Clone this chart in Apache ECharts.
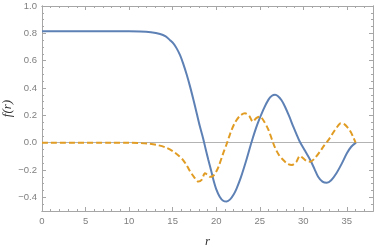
<!DOCTYPE html>
<html><head><meta charset="utf-8">
<script src="https://cdn.jsdelivr.net/npm/echarts@6/dist/echarts.min.js"></script>
<style>html,body{margin:0;padding:0;background:#fff}#c{width:374px;height:247px}</style>
</head><body><div id="c"></div>
<script>
const blueR = [0,8,10,11.25,12.5,13.55,14.2,14.7,15.1,15.46,15.85,16.2,16.6,17.0,17.4,17.76,18.1,18.5,18.8,19.1,19.4,19.67,20.0,20.4,20.8,21.2,21.6,22.0,22.35,22.8,23.4,24.07,24.7,25.4,26.0,26.4,26.75,27.1,27.5,27.9,28.4,28.85,29.2,29.6,30.2,30.8,31.3,31.7,32.2,32.7,33.2,33.8,34.4,35.0,35.5,36.05];
const blueF = [0.815,0.815,0.815,0.814,0.808,0.795,0.777,0.75,0.725,0.69,0.64,0.58,0.5,0.41,0.31,0.215,0.125,0.03,-0.05,-0.127,-0.2,-0.27,-0.34,-0.395,-0.425,-0.43,-0.415,-0.38,-0.334,-0.26,-0.14,0.007,0.13,0.24,0.315,0.343,0.35,0.34,0.31,0.263,0.19,0.117,0.065,0.007,-0.06,-0.127,-0.195,-0.249,-0.285,-0.293,-0.275,-0.224,-0.155,-0.078,-0.03,0];
const orangeR = [0,8,10,11.25,12.3,13.2,14.2,15.1,15.7,16.2,16.6,17.0,17.5,17.95,18.35,18.7,19.0,19.3,19.6,19.9,20.3,20.8,21.2,21.6,22.1,22.7,23.3,23.8,24.2,24.6,25.0,25.5,26.0,26.7,27.2,27.7,28.2,28.7,29.2,29.6,30.0,30.4,30.8,31.3,31.9,32.4,32.9,33.5,34.0,34.3,34.7,35.1,35.4,35.7,36.0];
const orangeF = [0,0,-0.001,-0.003,-0.008,-0.017,-0.035,-0.066,-0.095,-0.127,-0.165,-0.21,-0.255,-0.285,-0.27,-0.224,-0.235,-0.25,-0.245,-0.224,-0.17,-0.078,-0.01,0.065,0.14,0.195,0.215,0.195,0.154,0.18,0.19,0.155,0.093,-0.029,-0.09,-0.127,-0.155,-0.163,-0.14,-0.097,-0.115,-0.135,-0.139,-0.115,-0.066,-0.02,0.02,0.08,0.125,0.142,0.135,0.11,0.083,0.045,0];
const xMajor = [0,5,10,15,20,25,30,35];
const xMinor = [0,1,2,3,4,5,6,7,8,9,10,11,12,13,14,15,16,17,18,19,20,21,22,23,24,25,26,27,28,29,30,31,32,33,34,35,36,37,38];
const yMajor = [-0.4,-0.2,0,0.2,0.4,0.6,0.8,1.0];
const yMinor = [-0.5,-0.45,-0.4,-0.35,-0.3,-0.25,-0.2,-0.15,-0.1,-0.05,0,0.05,0.1,0.15,0.2,0.25,0.3,0.35,0.4,0.45,0.5,0.55,0.6,0.65,0.7,0.75,0.8,0.85,0.9,0.95,1.0];

const frame = '#a6a6a6';
const labelStyle = {color:'#7f7f7f', fontSize:9.5, fontFamily:'Liberation Sans'};
function xa(pos, vals, len, labels, extra){
  return Object.assign({type:'value', position:pos, min:0, max:38,
    axisLine:{show:true, onZero:false, lineStyle:{color:frame, width:1}},
    axisTick:{show:true, inside:true, length:len, customValues:vals, lineStyle:{color:frame}},
    axisLabel: labels ? Object.assign({show:true, customValues:xMajor, margin:5}, labelStyle) : {show:false},
    splitLine:{show:false}}, extra||{});
}
function ya(pos, vals, len, labels, extra){
  return Object.assign({type:'value', position:pos, min:-0.5, max:1.0,
    axisLine:{show:true, onZero:false, lineStyle:{color:frame, width:1}},
    axisTick:{show:true, inside:true, length:len, customValues:vals, lineStyle:{color:frame}},
    axisLabel: labels ? Object.assign({show:true, customValues:yMajor, margin:5, formatter:v=>v.toFixed(1).replace('-','\u2212')}, labelStyle) : {show:false},
    splitLine:{show:false}}, extra||{});
}
const chart = echarts.init(document.getElementById('c'), null, {renderer:'canvas'});
chart.setOption({
  animation:false,
  grid:{left:42, right:1, top:6, bottom:36, containLabel:false, outerBoundsMode:'none'},
  xAxis:[
    xa('bottom', xMajor, 4, true, {name:'r', nameLocation:'middle', nameGap:24, nameMoveOverlap:false, nameTextStyle:{fontFamily:'Liberation Serif', fontStyle:'italic', fontSize:13, color:'#333'}}),
    xa('top', xMajor, 4, false),
    xa('bottom', xMinor, 2, false),
    xa('top', xMinor, 2, false)
  ],
  yAxis:[
    ya('left', yMajor, 4, true, {name:'f(r)', nameLocation:'middle', nameGap:28, nameRotate:90, nameMoveOverlap:false, nameTextStyle:{fontFamily:'Liberation Serif', fontStyle:'italic', fontSize:13, color:'#333'}}),
    ya('right', yMajor, 4, false),
    ya('left', yMinor, 2, false),
    ya('right', yMinor, 2, false)
  ],
  series:[
    {type:'line', xAxisIndex:0, yAxisIndex:0, data:blueR.map((r,i)=>[r,blueF[i]]), showSymbol:false, smooth:0.3,
     lineStyle:{color:'#5E81B5', width:2}, z:3,
     markLine:{silent:true, symbol:'none', label:{show:false}, lineStyle:{color:'#b3b3b3', type:'solid', width:1}, data:[{yAxis:0}], z:1}},
    {type:'line', xAxisIndex:0, yAxisIndex:0, data:orangeR.map((r,i)=>[r,orangeF[i]]), showSymbol:false, smooth:0.3,
     lineStyle:{color:'#E19C24', width:2, type:[6,3]}, z:4}
  ]
});
</script></body></html>
